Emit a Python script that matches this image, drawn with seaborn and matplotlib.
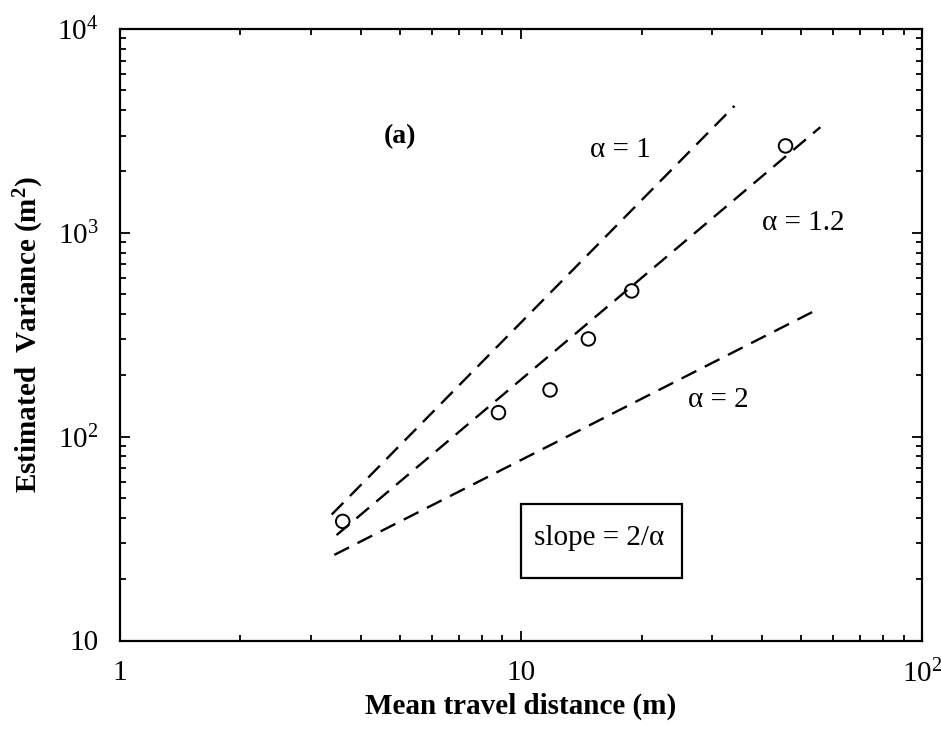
import numpy as np
import pandas as pd
import matplotlib
matplotlib.use("Agg")
import matplotlib.pyplot as plt
import matplotlib.ticker as mticker
from matplotlib.patches import Rectangle
import seaborn as sns

# ---- data ----
obs_x = [3.60, 8.80, 11.83, 14.74, 18.90, 45.7]
obs_y = [38.4, 131.2, 169.5, 301.6, 518.7, 2669]

line_a1_x = [3.38, 34.1]
line_a1_y = [41.5, 4195]
line_a12_x = [3.475, 55.8]
line_a12_y = [32.9, 3298]
line_a2_x = [3.43, 55.0]
line_a2_y = [26.3, 421.7]

x_ticks = [1, 10, 100]
x_ticklabels = ["1", "10", "10$^{2}$"]
y_ticks = [10, 100, 1000, 10000]
y_ticklabels = ["10", "10$^{2}$", "10$^{3}$", "10$^{4}$"]

sns.set_theme(style="ticks")
plt.rcParams["font.family"] = ["Liberation Serif", "DejaVu Serif"]
plt.rcParams["mathtext.fontset"] = "custom"
plt.rcParams["mathtext.rm"] = "Liberation Serif"
plt.rcParams["mathtext.it"] = "Liberation Serif:italic"
plt.rcParams["mathtext.bf"] = "Liberation Serif:bold"
plt.rcParams["text.color"] = "black"
plt.rcParams["axes.labelcolor"] = "black"
plt.rcParams["xtick.color"] = "black"
plt.rcParams["ytick.color"] = "black"
plt.rcParams["xtick.labelcolor"] = "black"
plt.rcParams["ytick.labelcolor"] = "black"

fig = plt.figure(figsize=(9.41, 7.32), dpi=100)
ax = fig.add_axes([0.127, 0.125, 0.8528, 0.8354])

lines = pd.concat([
    pd.DataFrame({"x": line_a1_x, "y": line_a1_y, "alpha": "1"}),
    pd.DataFrame({"x": line_a12_x, "y": line_a12_y, "alpha": "1.2"}),
    pd.DataFrame({"x": line_a2_x, "y": line_a2_y, "alpha": "2"}),
])
for name, g in lines.groupby("alpha"):
    sns.lineplot(data=g, x="x", y="y", ax=ax, color="black", lw=1.7,
                 dashes=False, linestyle=(0, (7.0, 4.0)), legend=False,
                 estimator=None, sort=False)

sns.scatterplot(x=obs_x, y=obs_y, ax=ax, marker="o", s=95,
                facecolor="none", edgecolor="black", linewidth=1.4, zorder=5)

ax.set_xscale("log")
ax.set_yscale("log")
ax.set_xlim(1, 100)
ax.set_ylim(10, 10000)

ax.xaxis.set_major_locator(mticker.FixedLocator(x_ticks))
ax.xaxis.set_major_formatter(mticker.FixedFormatter(x_ticklabels))
ax.yaxis.set_major_locator(mticker.FixedLocator(y_ticks))
ax.yaxis.set_major_formatter(mticker.FixedFormatter(y_ticklabels))
ax.xaxis.set_minor_locator(mticker.LogLocator(base=10, subs=np.arange(2, 10)))
ax.yaxis.set_minor_locator(mticker.LogLocator(base=10, subs=np.arange(2, 10)))
ax.xaxis.set_minor_formatter(mticker.NullFormatter())
ax.yaxis.set_minor_formatter(mticker.NullFormatter())

ax.tick_params(which="both", direction="in", top=True, right=True,
               colors="black", width=1.3)
ax.tick_params(which="major", length=7, labelsize=21)
ax.tick_params(which="minor", length=4)
ax.tick_params(axis="x", which="major", pad=14)
ax.tick_params(axis="y", which="major", pad=15)

for sp in ax.spines.values():
    sp.set_visible(True)
    sp.set_linewidth(1.6)
    sp.set_color("black")
ax.set_facecolor("white")
ax.grid(False)

ax.set_xlabel("Mean travel distance (m)", fontsize=21, fontweight="bold",
              labelpad=3, color="black")
ax.set_ylabel("Estimated  Variance (m$^{\\mathbf{2}}$)", fontsize=21,
              fontweight="bold", labelpad=8, color="black")

ax.text(4.99, 2965, "(a)", fontsize=20, fontweight="bold", ha="center", va="center")
ax.text(17.7, 2553, "α = 1", fontsize=21, ha="center", va="center")
ax.text(50.7, 1122, "α = 1.2", fontsize=21, ha="center", va="center")
ax.text(31.1, 151.4, "α = 2", fontsize=21, ha="center", va="center")

ax.add_patch(Rectangle((0.5003, 0.1017), 0.2006, 0.1215, transform=ax.transAxes,
                       fill=False, edgecolor="black", linewidth=1.6, zorder=6))
ax.text(0.5975, 0.1676, "slope = 2/α", transform=ax.transAxes, fontsize=21,
        ha="center", va="center")

fig.savefig("out.png", dpi=100, facecolor="white")
